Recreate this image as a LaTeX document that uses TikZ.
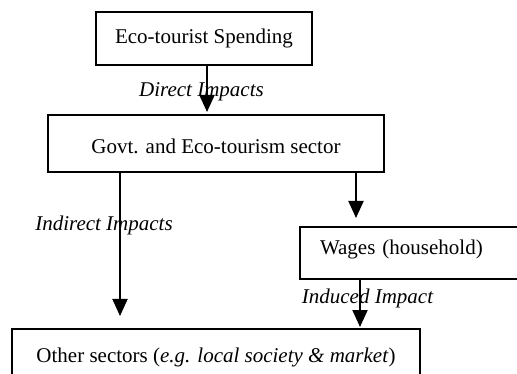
\documentclass[tikz,border=0pt]{standalone}
\usepackage{fontspec}
\setmainfont{Liberation Serif}
\usetikzlibrary{arrows.meta}
\tikzset{
  box/.style={draw=black, line width=2pt, fill=white, inner sep=0pt, font=\fontsize{21}{25}\selectfont},
  lbl/.style={anchor=base, inner sep=0pt, font=\fontsize{21}{25}\selectfont\itshape},
  arr/.style={line width=2pt, -{Triangle[width=15pt,length=17pt]}}
}
\begin{document}
\begin{tikzpicture}[x=1pt,y=-1pt]
\useasboundingbox (0,0) rectangle (517,374);
\clip (0,0) rectangle (517,374);
% boxes
\node[box, minimum width=216pt, minimum height=53pt, text height=14pt, text depth=3pt] (spend) at (204,38.5) {Eco-tourist Spending};
\node[box, minimum width=336pt, minimum height=57pt, text height=21pt, text depth=0pt] (govt) at (216,143.5) {Govt. and Eco-tourism sector};
\node[box, minimum width=230pt, minimum height=52pt, text width=210pt, align=left, text height=14pt, text depth=10pt] (wages) at (415,253) {\hspace*{10pt}Wages (household)};
\node[box, minimum width=408pt, minimum height=64pt, anchor=north, text height=14pt, text depth=12pt] (other) at (216,328) {Other sectors (\textit{e.g. local society \& market})};
% labels
\node[lbl] (ldirect) at (201.5,97) {Direct Impacts};
\node[lbl] (lindirect) at (104,231) {Indirect Impacts};
\node[lbl] (linduced) at (367.5,303) {Induced Impact};
% connector x positions
\coordinate (xA) at (207,0);
\coordinate (xL) at (120,0);
\coordinate (xR) at (356,0);
\coordinate (xW) at (360,0);
% connectors
\draw[arr, shorten >=2pt] (spend.south -| xA) -- (govt.north -| xA);
\draw[arr, shorten >=12pt] (govt.south -| xL) -- (other.north -| xL);
\draw[arr, shorten >=8pt] (govt.south -| xR) -- (wages.north -| xR);
\draw[arr, shorten >=1pt] (wages.south -| xW) -- (other.north -| xW);
\end{tikzpicture}
\end{document}
